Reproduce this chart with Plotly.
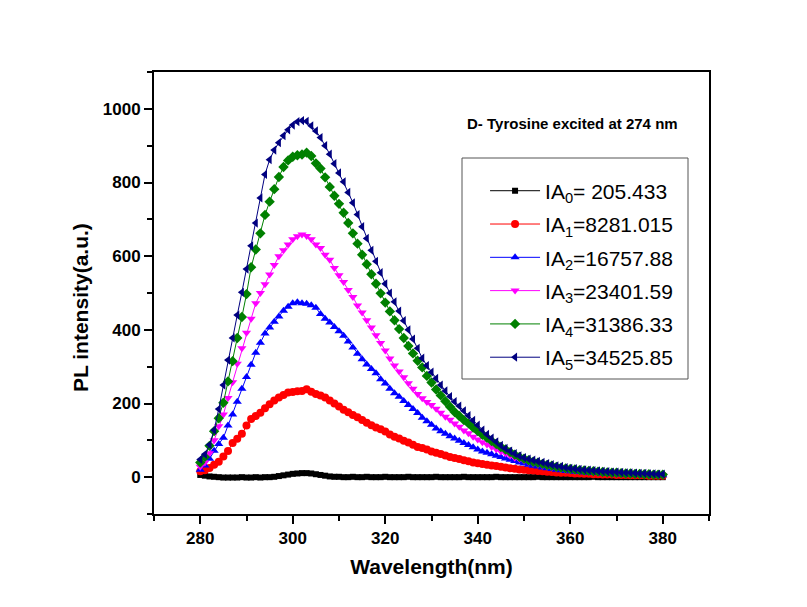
import plotly.graph_objects as go

wavelength = list(range(280, 381))

ia0 = [6, 4, 2, 1, 0, -1, -1, -1, -1, 0, -1, -1, 0, -1, 0, 0,
       1, 3, 5, 7, 9, 10, 11, 11, 10, 8, 6, 4, 2, 1,
       1, 0, 0, 1, 0, 0, 1, 0, 0, 0, 1, 0, 0, 0, 0, 1, 0, 0, 0, 0,
       0, 1, 0, 0, 0, 0, 0, 1, 0, 0, 0, 0, 0, 0, 1, 0, 0, 0, 0, 0,
       0, 0, 0, 1, 0, 0, 0, 0, 0, 0, 0, 0, 0, 0, 0, 1, 0, 0, 0, 0,
       0, 0, 0, 0, 0, 0, 0, 0, 0, 0, 0]

ia1 = [16, 19, 25, 34, 42, 56, 71, 93, 104, 118, 140, 158, 166, 175, 187, 198,
       208, 216, 223, 230, 231, 233, 234, 239, 232, 226, 222, 216, 208, 200,
       192, 183, 176, 169, 163, 155, 148, 141, 135, 130, 124, 116, 110, 105,
       99, 94, 88, 82, 79, 75, 70, 66, 63, 59, 55, 52, 49, 46, 43, 40,
       38, 36, 34, 32, 30, 28, 26, 24, 23, 21, 20, 19, 18, 17, 16, 15,
       14, 13, 12, 12, 11, 10, 10, 9, 9, 8, 8, 7, 7, 7, 6, 6, 6, 5, 5,
       5, 5, 4, 4, 4, 4]

ia2 = [20, 32, 50, 72, 90, 107, 140, 170, 205, 240, 272, 305, 338, 365, 390,
       406, 422, 436, 452, 463, 472, 475, 472, 471, 467, 460, 443, 430, 420,
       408, 396, 384, 368, 352, 335, 320, 306, 294, 282, 266, 254, 240, 228,
       218, 207, 196, 185, 174, 161, 152, 142, 132, 125, 118, 111, 105, 99,
       93, 87, 81, 75, 70, 66, 62, 58, 55, 51, 47, 44, 40, 37, 34, 31, 29,
       26, 24, 22, 20, 19, 17, 16, 15, 14, 13, 12, 11, 11, 10, 9, 9, 8, 8,
       7, 7, 7, 6, 6, 6, 5, 5, 5]

ia3 = [28, 40, 65, 100, 138, 170, 215, 258, 308, 350, 392, 430, 472, 500,
       524, 550, 576, 600, 616, 632, 646, 654, 659, 655, 646, 632, 622, 604,
       590, 568, 548, 530, 508, 489, 466, 447, 426, 406, 385, 364, 344, 322,
       303, 287, 271, 255, 240, 226, 214, 204, 196, 186, 175, 164, 156, 146,
       137, 127, 119, 110, 102, 95, 89, 82, 76, 70, 64, 58, 53, 49, 45, 42,
       38, 35, 32, 29, 26, 24, 22, 20, 19, 17, 16, 15, 14, 13, 12, 11, 11,
       10, 9, 9, 8, 8, 7, 7, 7, 6, 6, 6, 6]

ia4 = [40, 55, 85, 125, 160, 202, 260, 315, 378, 435, 497, 570, 618, 662,
       712, 748, 782, 815, 842, 860, 870, 874, 876, 881, 872, 852, 838, 814,
       788, 764, 742, 718, 690, 662, 634, 604, 578, 551, 525, 499, 474, 450,
       426, 402, 378, 356, 336, 316, 298, 275, 257, 238, 222, 206, 191, 177,
       166, 155, 146, 135, 125, 115, 107, 98, 90, 82, 75, 68, 61, 55, 50, 46,
       42, 39, 36, 33, 31, 28, 26, 24, 22, 21, 19, 18, 17, 16, 15, 14, 13,
       12, 12, 11, 10, 10, 9, 9, 8, 8, 7, 7, 7]

ia5 = [48, 62, 88, 128, 185, 250, 318, 378, 440, 502, 565, 628, 690, 758,
       822, 862, 888, 908, 927, 943, 956, 965, 968, 966, 954, 940, 922, 900,
       877, 851, 826, 802, 773, 745, 713, 680, 648, 616, 586, 555, 525, 500,
       476, 451, 425, 400, 375, 350, 323, 303, 285, 268, 250, 234, 219, 205,
       193, 180, 167, 154, 141, 128, 116, 106, 96, 86, 78, 71, 64, 58, 53, 49,
       46, 43, 40, 37, 34, 31, 29, 26, 24, 23, 21, 20, 19, 18, 17, 16, 15, 14,
       14, 13, 12, 12, 11, 10, 10, 9, 9, 8, 8]

series_names = ["IA<sub>0</sub>= 205.433", "IA<sub>1</sub>=8281.015",
                "IA<sub>2</sub>=16757.88", "IA<sub>3</sub>=23401.59",
                "IA<sub>4</sub>=31386.33", "IA<sub>5</sub>=34525.85"]
series_values = [ia0, ia1, ia2, ia3, ia4, ia5]
series_colors = ["#000000", "#FF0000", "#0000FF", "#FF00FF", "#008000", "#000080"]
series_symbols = ["square", "circle", "triangle-up", "triangle-down", "diamond", "triangle-left"]
series_sizes = [6, 8, 8, 8, 8, 8]

x_ticks = [280, 300, 320, 340, 360, 380]
y_ticks = [0, 200, 400, 600, 800, 1000]

FONT = "Arial, Liberation Sans, sans-serif"

fig = go.Figure()
for i, (name, vals, col, sym, sz) in enumerate(zip(series_names, series_values, series_colors,
                                                  series_symbols, series_sizes)):
    fig.add_trace(go.Scatter(
        x=wavelength, y=vals, name=name, mode="lines+markers",
        legendgroup=str(i),
        line=dict(color=col, width=1),
        marker=dict(symbol=sym, size=sz, color=col, line=dict(width=0)),
    ))

axis_font = dict(family=FONT, size=17, color="black", weight="bold")
title_font = dict(family=FONT, size=21, color="black", weight="bold")

fig.update_layout(
    width=807, height=607,
    margin=dict(l=154, r=98, t=72, b=93),
    paper_bgcolor="white", plot_bgcolor="white",
    font=dict(family=FONT, color="black"),
    showlegend=True,
    legend=dict(
        x=0.5965, y=0.777, xanchor="left", yanchor="top",
        borderwidth=0, bgcolor="rgba(0,0,0,0)",
        font=dict(family=FONT, size=21, color="black"),
        itemwidth=50, tracegroupgap=3,
    ),
    shapes=[dict(
        type="rect", xref="paper", yref="paper",
        x0=(462 - 154) / 555, x1=(688 - 154) / 555,
        y0=(514 - 379) / 442, y1=(514 - 158) / 442,
        line=dict(color="#555555", width=1), fillcolor="white", layer="above",
    )],
    xaxis=dict(
        range=[270, 390], tickvals=x_ticks, ticks="outside", ticklen=8, tickwidth=2,
        tickcolor="black", showline=True, linecolor="black", linewidth=2, mirror=True,
        showgrid=False, zeroline=False, tickfont=axis_font,
        minor=dict(dtick=10, tick0=270, ticks="outside", ticklen=5, tickwidth=2, tickcolor="black"),
        title=dict(text="Wavelength(nm)", font=title_font, standoff=12),
    ),
    yaxis=dict(
        range=[-100, 1100], tickvals=y_ticks, ticks="outside", ticklen=8, tickwidth=2,
        tickcolor="black", showline=True, linecolor="black", linewidth=2, mirror=True,
        showgrid=False, zeroline=False, tickfont=axis_font,
        minor=dict(dtick=100, tick0=-100, ticks="outside", ticklen=5, tickwidth=2, tickcolor="black"),
    ),
    annotations=[
        dict(
            x=360.4, y=959, xref="x", yref="y", showarrow=False,
            text="D- Tyrosine excited at 274 nm",
            font=dict(family=FONT, size=15, color="black", weight="bold"),
        ),
        dict(
            x=(80 - 154) / 555, y=(514 - 308) / 442, xref="paper", yref="paper",
            showarrow=False, textangle=-90, text="PL intensity(a.u.)",
            font=title_font, xanchor="center", yanchor="middle",
        ),
    ],
)

fig.write_html("out.html")
